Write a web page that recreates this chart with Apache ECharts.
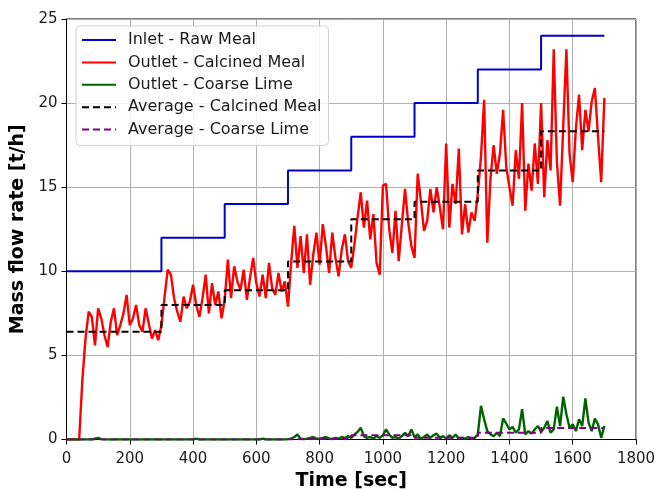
<!DOCTYPE html>
<html>
<head>
<meta charset="utf-8">
<script src="https://cdn.jsdelivr.net/npm/echarts@6/dist/echarts.min.js"></script>
<style>
  html, body { margin: 0; padding: 0; background: #fff; }
  #chart { width: 656px; height: 489px; }
</style>
</head>
<body>
<div id="chart"></div>
<script>
// step edges for the set points / averages [sec]
const stepTimes = [0, 300, 500, 700, 900, 1100, 1300, 1500, 1700];
const inletRawMeal = [10, 12, 14, 16, 18, 20, 22, 24];
const avgCalcinedMeal = [6.4, 8.0, 8.87, 10.58, 13.1, 14.14, 16.0, 18.33];
const avgCoarseLime = [0.0, 0.0, 0.0, 0.07, 0.25, 0.1, 0.4, 0.68];

// measured outlet signals, sampled every 10 s from 0 to 1700 s
const sampleStep = 10;
const outletCalcinedMeal = [
  0, 0, 0, 0, 0, 3.5, 6.0, 7.6, 7.3, 5.6,
  7.8, 7.2, 6.2, 5.5, 7.0, 7.8, 6.2, 6.8, 7.5, 8.6,
  6.8, 7.2, 8.0, 6.8, 6.4, 7.8, 6.9, 6.0, 6.5, 5.9,
  6.8, 8.5, 10.1, 9.8, 8.4, 7.6, 7.0, 8.5, 7.8, 8.2,
  9.2, 8.0, 7.3, 8.4, 9.8, 7.5, 9.3, 8.0, 8.8, 7.2,
  8.3, 10.7, 8.4, 10.3, 9.4, 8.9, 10.1, 8.3, 9.6, 10.8,
  9.3, 8.5, 9.8, 8.4, 10.5, 9.0, 8.6, 9.9, 8.8, 9.4,
  7.9, 10.5, 12.7, 10.2, 12.1, 9.9, 12.2, 9.2, 11.0, 12.3,
  10.4, 12.8, 11.5, 9.9, 12.3, 10.8, 9.7, 11.3, 12.2, 10.6,
  10.2, 11.6, 13.2, 14.7, 12.6, 14.2, 11.9, 13.4, 10.5, 9.8,
  15.1, 15.2, 12.5, 11.1, 13.6, 10.6, 12.8, 14.9, 12.9, 11.5,
  10.8, 15.8, 14.2, 12.4, 13.0, 14.9, 13.5, 15.0, 13.8, 12.5,
  17.6, 12.6, 15.2, 14.0, 17.3, 12.2, 14.0, 12.3, 13.5, 13.0,
  14.6, 16.8, 20.2, 11.7, 15.5, 17.5, 15.8, 17.0, 19.6, 16.2,
  15.0, 13.9, 17.2, 15.5, 20.0, 13.6, 16.4, 14.8, 17.6, 15.2,
  20.0, 14.4, 17.8, 16.0, 23.2, 16.5, 13.9, 18.6, 23.2, 17.0,
  15.3, 18.5, 20.5, 17.2, 19.6, 18.3, 20.1, 20.9, 18.0, 15.3,
  20.3
];
const outletCoarseLime = [
  0, 0, 0, 0, 0, 0, 0, 0, 0, 0.05,
  0.1, 0.02, 0, 0, 0, 0, 0, 0, 0, 0,
  0, 0, 0, 0, 0, 0, 0, 0, 0, 0,
  0, 0, 0, 0, 0, 0, 0, 0, 0, 0,
  0, 0.05, 0, 0, 0, 0, 0, 0, 0, 0,
  0, 0, 0, 0, 0, 0, 0, 0, 0, 0,
  0, 0, 0.05, 0, 0, 0, 0, 0, 0, 0,
  0.02, 0.05, 0.15, 0.3, 0.05, 0.02, 0.05, 0.1, 0.15, 0.05,
  0.05, 0.1, 0.15, 0.05, 0.02, 0.1, 0.05, 0.15, 0.08, 0.2,
  0.1, 0.3, 0.45, 0.7, 0.2, 0.1, 0.15, 0.05, 0.2, 0.1,
  0.25, 0.6, 0.3, 0.1, 0.15, 0.05, 0.2, 0.4, 0.2, 0.6,
  0.15, 0.3, 0.05, 0.15, 0.3, 0.1, 0.25, 0.35, 0.1, 0.2,
  0.05, 0.25, 0.1, 0.3, 0.05, 0.1, 0.05, 0.15, 0.05, 0.1,
  0.3, 2.0, 1.2, 0.5, 0.3, 0.2, 0.4, 0.2, 1.25, 0.95,
  0.6, 0.75, 0.4, 0.6, 1.8, 0.3, 0.5, 0.35, 0.6, 0.8,
  0.45, 0.7, 1.1, 0.4, 0.6, 1.95, 0.8, 2.55, 1.5, 0.7,
  0.9, 0.5, 1.2, 0.8, 2.45, 1.0, 0.5, 1.25, 0.9, 0.1,
  0.8
];

const xTicks = [0, 200, 400, 600, 800, 1000, 1200, 1400, 1600, 1800];
const yTicks = [0, 5, 10, 15, 20, 25];

// build [t, v] pairs
function sampled(vals) {
  return vals.map((v, i) => [i * sampleStep, v]);
}
function stepped(vals) {
  let pts = vals.map((v, i) => [stepTimes[i], v]);
  pts.push([stepTimes[stepTimes.length - 1], vals[vals.length - 1]]);
  return pts;
}

const font = 'DejaVu Sans';
const chart = echarts.init(document.getElementById('chart'), null, { renderer: 'canvas' });

function lineSeries(name, data, color, width, dashed, step) {
  return {
    name: name,
    type: 'line',
    data: data,
    step: step ? 'end' : false,
    showSymbol: false,
    symbol: 'none',
    animation: false,
    silent: true,
    lineStyle: { color: color, width: width, type: dashed ? [7, 4] : 'solid' },
    itemStyle: { color: color }
  };
}

chart.setOption({
  animation: false,
  textStyle: { fontFamily: font },
  grid: {
    left: 66.5, right: 20, top: 19, bottom: 49.5,
    outerBoundsMode: 'none', containLabel: false,
    show: true, borderColor: '#000', borderWidth: 1, backgroundColor: 'transparent'
  },
  legend: {
    orient: 'vertical',
    left: 76, top: 26,
    padding: [6, 7, 8, 5],
    itemWidth: 34, itemHeight: 16, itemGap: 6.4,
    itemStyle: { opacity: 0 },
    backgroundColor: 'rgba(255,255,255,0.85)',
    borderColor: '#d0d0d0', borderWidth: 1, borderRadius: 4,
    textStyle: { fontFamily: font, fontSize: 16, color: '#1a1a1a', padding: [0, 0, 0, 7] },
    data: ['Inlet - Raw Meal', 'Outlet - Calcined Meal', 'Outlet - Coarse Lime',
           'Average - Calcined Meal', 'Average - Coarse Lime']
  },
  xAxis: {
    type: 'value', min: xTicks[0], max: xTicks[xTicks.length - 1], interval: 200,
    name: 'Time [sec]', nameLocation: 'middle', nameGap: 30,
    nameTextStyle: { fontFamily: font, fontSize: 19, fontWeight: 'bold', color: '#000' },
    axisLine: { show: true, onZero: false, lineStyle: { color: '#000', width: 1 } },
    axisTick: { show: true, inside: false, length: 5, lineStyle: { color: '#000' } },
    axisLabel: { fontFamily: font, fontSize: 15, color: '#1a1a1a', margin: 12,
                 formatter: v => String(v) },
    splitLine: { show: true, lineStyle: { color: '#b0b0b0', width: 1 } }
  },
  yAxis: {
    type: 'value', min: yTicks[0], max: yTicks[yTicks.length - 1], interval: 5,
    name: 'Mass flow rate [t/h]', nameLocation: 'middle', nameGap: 30, nameRotate: 90,
    nameTextStyle: { fontFamily: font, fontSize: 19, fontWeight: 'bold', color: '#000' },
    axisLine: { show: true, onZero: false, lineStyle: { color: '#000', width: 1 } },
    axisTick: { show: true, inside: false, length: 5, lineStyle: { color: '#000' } },
    axisLabel: { fontFamily: font, fontSize: 15, color: '#1a1a1a', margin: 9,
                 formatter: v => String(v) },
    splitLine: { show: true, lineStyle: { color: '#b0b0b0', width: 1 } }
  },
  series: [
    lineSeries('Inlet - Raw Meal', stepped(inletRawMeal), '#0000cc', 2, false, true),
    lineSeries('Outlet - Calcined Meal', sampled(outletCalcinedMeal), '#ff0000', 2.4, false, false),
    lineSeries('Outlet - Coarse Lime', sampled(outletCoarseLime), '#006400', 2.4, false, false),
    lineSeries('Average - Calcined Meal', stepped(avgCalcinedMeal), '#000000', 2, true, true),
    lineSeries('Average - Coarse Lime', stepped(avgCoarseLime), '#800080', 2, true, true)
  ]
});
</script>
</body>
</html>
